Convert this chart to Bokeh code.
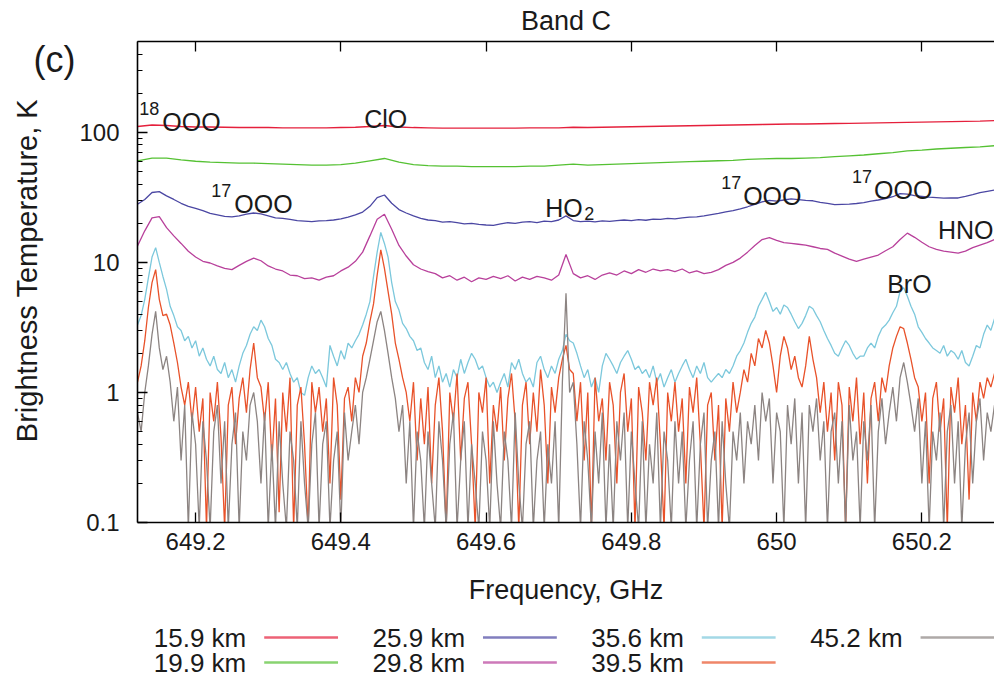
import numpy as np
from bokeh.plotting import figure
from bokeh.models import Range1d, FixedTicker, LinearAxis, Label
from bokeh.layouts import column, row
from bokeh.core.properties import value
from bokeh.embed import file_html
from bokeh.resources import INLINE

FONT = "Liberation Sans"

# ---------------- data ----------------
FREQ_START, FREQ_STOP = 649.12, 650.30   # GHz, spectra sampled uniformly over this span

series_names = ["15.9 km", "19.9 km", "25.9 km", "29.8 km", "35.6 km", "39.5 km", "45.2 km"]
series_colors = ["#e5203c", "#55c133", "#4b47a3", "#b8409b", "#7cc8dc", "#e8522a", "#8c8482"]

# 15.9 km (step 0.02 GHz)
t_15_9 = [111, 114, 113, 111, 110, 110, 109.5, 109, 109, 109,
          108.5, 108.5, 108.5, 108.5, 109, 109.5, 111, 113, 110, 109,
          108.5, 108, 108, 108, 108, 108, 108, 108.5, 108.5, 108.5,
          109.5, 109, 109.5, 110, 110.5, 111, 111.5, 112, 112.5, 113,
          113.5, 114, 114.5, 115, 115.5, 116, 116, 116.5, 117, 117.5,
          118, 118.5, 119, 119.5, 120, 120.5, 121, 121.5, 122, 123]

# 19.9 km (step 0.02 GHz)
t_19_9 = [60.5, 63.5, 63.5, 61.5, 60, 59, 58.5, 58, 58, 57.5,
          57, 56.5, 56, 56, 56.5, 58, 60.5, 63, 59, 56.5,
          55.5, 55, 55, 54.5, 54.5, 54.5, 54.5, 55, 55, 56,
          57, 56, 56.5, 57, 57.5, 58, 58.5, 59, 59.5, 60,
          60.5, 61, 62, 62.5, 63, 63, 63.5, 64, 65, 66,
          67, 68.5, 70, 72, 73, 74.5, 75.5, 76.5, 77.5, 79]

# 25.9 km (step 0.01 GHz)
t_25_9 = [28.0, 30.5, 34.5, 35.0, 32.5, 30.5, 28.5, 27.0, 26.0, 25.0,
          23.8, 23.2, 22.6, 22.4, 22.8, 23.5, 24.0, 23.6, 22.8, 22.0,
          21.8, 21.4, 21.0, 20.8, 20.6, 20.9, 21.0, 21.2, 21.6, 22.3,
          23.2, 24.4, 27.0, 31.5, 33.0, 28.5, 25.5, 24.0, 22.8, 21.8,
          21.2, 21.0, 20.4, 20.6, 20.2, 19.8, 20.0, 19.6, 19.4, 19.3,
          19.8, 20.2, 20.0, 20.4, 20.6, 20.2, 20.8, 20.6, 21.2, 22.8,
          21.0, 20.6, 20.8, 20.5, 20.9, 20.7, 21.0, 21.2, 21.0, 21.3,
          21.1, 21.5, 21.4, 21.8, 21.6, 22.0, 22.3, 22.4, 22.8, 23.3,
          23.8, 24.5, 25.0, 25.8, 26.8, 28.0, 29.2, 30.0, 29.6, 30.2,
          30.8, 30.4, 30.0, 29.8, 29.0, 28.4, 27.8, 28.0, 28.1, 28.4,
          28.8, 29.6, 30.2, 31.0, 32.0, 33.8, 33.5, 32.6, 32.2, 31.8,
          31.5, 31.2, 31.4, 31.3, 32.2, 33.2, 34.4, 35.2, 36.0]

# 29.8 km (step 0.01 GHz)
t_29_8 = [13.4, 17.5, 22.0, 22.5, 18.5, 16.0, 14.0, 12.2, 11.0, 10.2,
          9.9, 9.4, 9.0, 8.8, 9.5, 10.2, 10.8, 10.3, 9.4, 8.9,
          8.6, 8.0, 7.9, 7.5, 7.6, 7.3, 7.7, 7.9, 8.6, 9.2,
          10.2, 12.0, 16.0, 21.5, 23.5, 18.0, 13.5, 11.2, 9.6, 8.9,
          8.5, 8.2, 7.6, 7.9, 7.3, 7.7, 7.1, 7.6, 7.4, 7.8,
          7.5, 7.9, 7.2, 7.7, 7.4, 7.8, 7.6, 7.3, 8.0, 11.5,
          8.2, 7.6, 7.9, 7.4, 8.0, 8.3, 8.0, 8.6, 8.2, 8.8,
          8.4, 8.9, 8.6, 8.8, 8.5, 8.9, 8.3, 8.6, 8.2, 8.4,
          8.8, 9.5, 10.0, 10.8, 12.0, 13.5, 15.0, 15.5, 14.8, 14.2,
          14.0, 13.8, 13.6, 13.2, 12.8, 12.6, 11.8, 11.2, 10.6, 10.2,
          10.6, 11.0, 11.4, 12.3, 13.2, 15.0, 16.8, 15.6, 14.3, 13.2,
          12.6, 12.2, 12.0, 11.8, 12.2, 13.0, 13.6, 14.2, 15.0]

# 35.6 km (step 0.005 GHz)
t_35_6 = [3.3, 3.9, 5.2, 7.6, 11.0, 13.0, 10.0, 7.8, 6.2, 4.6,
          3.9, 3.2, 3.0, 2.5, 2.7, 2.2, 2.5, 1.9, 2.2, 1.8,
          1.6, 1.9, 1.5, 1.4, 1.7, 1.3, 1.5, 1.2, 1.6, 2.0,
          2.3, 2.8, 3.2, 3.0, 3.6, 3.2, 2.6, 2.3, 1.8, 1.7,
          1.5, 1.7, 1.4, 1.2, 1.3, 1.0, 0.95, 1.3, 1.6, 1.4,
          1.5, 1.3, 1.1, 2.3, 1.9, 1.6, 2.1, 1.8, 2.4, 2.2,
          2.5, 2.8, 3.3, 4.0, 5.0, 7.8, 12.0, 17.0, 14.0, 11.0,
          7.0, 5.0, 4.3, 3.4, 3.1, 2.7, 2.5, 2.1, 2.2, 1.7,
          1.5, 1.9, 1.3, 1.6, 1.2, 1.4, 1.1, 1.5, 1.3, 1.8,
          1.4, 1.7, 2.0, 1.8, 1.5, 1.6, 1.3, 1.1, 1.2, 1.0,
          1.2, 1.4, 1.1, 1.7, 1.5, 1.8, 1.4, 1.2, 1.3, 1.1,
          1.7, 1.9, 1.5, 1.3, 1.6, 1.4, 1.8, 2.1, 2.8, 2.5,
          2.4, 2.0, 1.6, 1.3, 1.5, 1.1, 1.3, 1.0, 1.6, 2.0,
          1.8, 1.6, 1.4, 1.7, 1.9, 2.1, 1.8, 1.5, 1.6, 1.4,
          1.5, 1.3, 1.6, 1.2, 1.4, 1.1, 1.3, 1.5, 1.2, 1.4,
          1.6, 1.8, 1.5, 1.3, 1.6, 1.4, 1.7, 1.3, 1.2, 1.3,
          1.4, 1.3, 1.5, 1.4, 1.6, 1.9, 2.1, 2.4, 2.9, 3.4,
          3.8, 4.6, 5.2, 5.9, 5.0, 4.2, 4.5, 4.0, 4.7, 4.5,
          4.0, 3.5, 3.1, 3.4, 3.9, 4.6, 4.4, 3.9, 3.5, 3.0,
          2.6, 2.3, 2.0, 1.9, 2.2, 2.5, 2.3, 2.0, 1.8, 1.9,
          1.9, 2.2, 2.4, 2.2, 2.7, 3.1, 3.3, 3.6, 4.1, 4.6,
          6.0, 6.4, 5.5, 4.6, 4.0, 3.2, 2.9, 2.6, 2.4, 2.2,
          2.1, 2.0, 2.3, 1.9, 2.1, 2.0, 1.8, 2.1, 1.7, 1.6,
          1.9, 2.3, 2.2, 2.8, 3.3, 3.0, 3.7]

# 39.5 km (step 0.005 GHz)
t_39_5 = [1.2, 1.6, 2.5, 4.5, 7.0, 8.8, 5.2, 3.9, 4.0, 3.3,
          2.4, 1.7, 1.1, 0.8, 1.2, 0.6, 1.1, 0.5, 0.9, 0.09,
          1.0, 0.6, 1.2, 0.45, 0.09, 0.8, 1.1, 0.4, 0.9, 1.3,
          0.7, 1.5, 2.4, 1.3, 1.1, 0.6, 1.2, 0.3, 0.9, 0.12,
          1.0, 0.5, 1.3, 0.09, 0.8, 1.1, 0.4, 0.09, 1.2, 0.7,
          1.1, 0.5, 0.9, 0.2, 1.3, 0.8, 0.15, 0.9, 1.1, 0.6,
          1.3, 1.0, 1.9, 2.4, 3.5, 4.8, 8.0, 12.5, 9.0, 6.0,
          4.0, 2.4, 1.8, 1.3, 1.0, 0.6, 1.2, 0.3, 0.9, 0.4,
          1.1, 0.2, 0.8, 1.3, 0.5, 0.09, 1.0, 0.6, 1.4, 0.3,
          0.9, 1.2, 0.4, 0.09, 1.0, 0.7, 1.3, 0.2, 0.8, 0.5,
          1.1, 0.3, 0.9, 1.4, 0.6, 0.09, 0.8, 1.2, 0.4, 1.0,
          0.5, 1.5, 0.8, 0.2, 1.1, 0.7, 1.3, 1.8, 2.3, 1.5,
          1.4, 0.6, 1.2, 0.3, 1.0, 0.09, 1.3, 0.6, 0.9, 0.3,
          1.2, 0.8, 0.2, 1.0, 1.4, 0.5, 0.9, 0.09, 1.1, 0.7,
          0.3, 1.2, 0.8, 1.3, 0.4, 0.09, 1.0, 0.6, 1.2, 0.5,
          0.9, 0.2, 1.1, 0.7, 1.3, 0.4, 0.09, 0.8, 1.0, 0.3,
          0.8, 0.09, 0.9, 0.5, 1.2, 0.7, 1.0, 1.5, 1.2, 2.0,
          1.6, 2.6, 2.2, 3.0, 2.4, 1.6, 1.0, 1.9, 2.7, 2.2,
          1.5, 1.9, 1.3, 1.1, 1.6, 2.7, 1.8, 1.3, 0.7, 1.2,
          0.5, 1.0, 0.3, 1.2, 0.8, 0.09, 1.1, 0.6, 1.3, 0.4,
          1.0, 0.2, 0.9, 1.2, 0.6, 1.3, 1.0, 1.6, 2.2, 2.7,
          3.2, 3.1, 2.4, 1.8, 1.3, 1.1, 0.6, 1.0, 0.2, 0.9,
          1.2, 0.5, 0.9, 0.09, 1.1, 0.7, 1.3, 0.4, 0.8, 0.15,
          1.0, 0.6, 1.2, 0.9, 1.3, 1.1, 1.4]

# 45.2 km (step 0.005 GHz)
t_45_2 = [0.7, 0.5, 1.0, 1.6, 2.8, 4.2, 2.2, 1.5, 1.9, 1.2,
          0.6, 1.1, 0.3, 0.8, 0.09, 0.7, 0.4, 0.09, 0.6, 0.3,
          0.09, 0.5, 0.8, 0.2, 0.6, 0.09, 0.4, 0.7, 0.09, 0.5,
          0.3, 0.8, 1.0, 0.6, 0.2, 0.7, 0.09, 0.4, 0.09, 0.6,
          0.2, 0.09, 0.5, 0.3, 0.09, 0.6, 0.2, 0.09, 0.4, 0.7,
          0.09, 0.4, 0.6, 0.09, 0.3, 0.5, 0.09, 0.7, 0.3, 0.5,
          0.8, 0.4, 1.0, 1.3, 1.8, 2.5, 3.5, 4.2, 3.0, 2.0,
          1.3, 0.9, 0.5, 0.8, 0.2, 0.6, 0.09, 0.5, 0.3, 0.09,
          0.5, 0.2, 0.09, 0.6, 0.3, 0.09, 0.4, 0.7, 0.09, 0.3,
          0.6, 0.09, 0.4, 0.2, 0.09, 0.5, 0.3, 0.09, 0.6, 0.2,
          0.09, 0.5, 0.3, 0.09, 0.7, 0.2, 0.09, 0.4, 0.6, 0.09,
          0.3, 0.5, 0.09, 0.4, 0.2, 0.6, 0.09, 1.2, 5.8, 1.0,
          1.2, 0.4, 0.09, 0.6, 0.3, 0.09, 0.5, 0.2, 0.7, 0.09,
          0.4, 0.09, 0.6, 0.3, 0.7, 0.09, 0.5, 0.2, 0.09, 0.6,
          0.09, 0.4, 0.2, 0.7, 0.09, 0.5, 0.3, 0.09, 0.6, 0.2,
          0.5, 0.09, 0.3, 0.6, 0.09, 0.4, 0.7, 0.09, 0.3, 0.5,
          0.09, 0.6, 0.2, 0.09, 0.5, 0.3, 0.7, 0.2, 0.6, 0.4,
          0.8, 0.3, 1.0, 0.6, 0.9, 0.2, 0.7, 0.5, 0.09, 0.8,
          0.4, 0.9, 0.2, 0.7, 0.09, 0.8, 0.5, 0.9, 0.3, 0.6,
          0.09, 0.5, 0.7, 0.2, 0.6, 0.09, 0.8, 0.3, 0.5, 0.09,
          0.6, 0.3, 0.8, 0.09, 0.5, 0.9, 0.4, 0.7, 1.1, 0.6,
          1.3, 1.7, 1.2, 0.8, 0.5, 0.9, 0.2, 0.6, 0.09, 0.5,
          0.3, 0.7, 0.09, 0.5, 0.8, 0.2, 0.6, 0.09, 0.4, 0.7,
          0.2, 0.6, 0.9, 0.3, 0.7, 0.5, 0.8]

series_values = [t_15_9, t_19_9, t_25_9, t_29_8, t_35_6, t_39_5, t_45_2]

x_ticks = [649.2, 649.4, 649.6, 649.8, 650.0, 650.2]
x_tick_labels = ["649.2", "649.4", "649.6", "649.8", "650", "650.2"]
y_ticks = [0.1, 1, 10, 100]
y_tick_labels = ["0.1", "1", "10", "100"]

# line annotations: (text, freq GHz, brightness K, font size)
annotations = [
    ("18", 649.1225, 152, "18px"), ("OOO", 649.1542, 120.8, "25px"),
    ("ClO", 649.4322, 127.4, "25px"),
    ("17", 649.2216, 35.6, "18px"), ("OOO", 649.2533, 28.3, "25px"),
    ("HO", 649.6814, 26.3, "25px"), ("2", 649.7350, 23.7, "18px"),
    ("17", 649.9236, 41.0, "18px"), ("OOO", 649.9539, 32.6, "25px"),
    ("17", 650.1038, 45.6, "18px"), ("OOO", 650.1341, 36.2, "25px"),
    ("HNO", 650.2222, 17.8, "25px"),
    ("BrO", 650.1522, 6.86, "25px"),
]

LEFT_W = 76          # width of the left strip holding "(c)" and the y-axis title
PAGE_W, MAIN_H, LEG_H = 994, 610, 66
FRAME_LEFT = 135

# ---------------- left strip: panel letter + y title ----------------
lf = figure(width=LEFT_W, height=MAIN_H + LEG_H, x_range=Range1d(0, LEFT_W),
            y_range=Range1d(MAIN_H + LEG_H, 0), output_backend="svg", toolbar_location=None,
            min_border=0)
lf.axis.visible = False
lf.grid.visible = False
lf.outline_line_color = None
lf.text(x=[33], y=[59], text=["(c)"], text_align="left", text_baseline="middle",
        text_font=value(FONT), text_font_size="36px", text_color="#1a1a1a")
lf.text(x=[26], y=[270], text=["Brightness Temperature, K"], angle=np.pi / 2,
        text_align="center", text_baseline="middle",
        text_font=value(FONT), text_font_size="29px", text_color="#1a1a1a")

# ---------------- main plot ----------------
p = figure(width=PAGE_W - LEFT_W, height=MAIN_H, x_range=Range1d(FREQ_START, FREQ_STOP),
           y_range=Range1d(0.1, 500), y_axis_type="log",
           output_backend="svg", toolbar_location=None,
           min_border_left=FRAME_LEFT - LEFT_W, min_border_right=0,
           min_border_top=41, min_border_bottom=88)
p.outline_line_color = None
p.xgrid.visible = False
p.ygrid.visible = False

for name, vals, col in zip(series_names, series_values, series_colors):
    freq = np.linspace(FREQ_START, FREQ_STOP, len(vals))
    p.line(freq, vals, line_color=col, line_width=1.3)

xa = p.xaxis[0]
xa.ticker = FixedTicker(ticks=x_ticks, minor_ticks=[])
xa.major_label_overrides = dict(zip(x_ticks, x_tick_labels))
xa.axis_label = "Frequency, GHz"

ya = p.yaxis[0]
minor = [m * d for d in (0.1, 1, 10, 100) for m in range(2, 10) if m * d <= 500]
ya.ticker = FixedTicker(ticks=y_ticks, minor_ticks=minor)
ya.major_label_overrides = dict(zip(y_ticks, y_tick_labels))

top = LinearAxis(ticker=FixedTicker(ticks=x_ticks, minor_ticks=[]),
                 major_label_overrides={t: "" for t in x_ticks})
top.axis_label = "Band C"
p.add_layout(top, "above")

for ax in (xa, ya, top):
    ax.axis_line_color = "black"
    ax.axis_line_width = 1.6
    ax.major_tick_line_color = "black"
    ax.major_tick_line_width = 1.3
    ax.minor_tick_line_color = "black"
    ax.major_tick_in = 10
    ax.major_tick_out = 0
    ax.minor_tick_in = 5
    ax.minor_tick_out = 0
    ax.major_label_text_font = FONT
    ax.major_label_text_font_size = "24px"
    ax.major_label_text_color = "#1a1a1a"
    ax.axis_label_text_font = FONT
    ax.axis_label_text_font_style = "normal"
    ax.axis_label_text_font_size = "27px"
    ax.axis_label_text_color = "#1a1a1a"

xa.major_label_standoff = 10
xa.axis_label_standoff = 22
ya.major_label_standoff = 18
top.major_label_standoff = 0
top.major_label_text_font_size = "0px"
top.axis_label_standoff = 6

for txt, fx, fy, fs in annotations:
    p.add_layout(Label(x=fx, y=fy, text=txt, text_font=FONT, text_font_size=fs,
                       text_color="#1a1a1a", text_baseline="alphabetic", text_align="left"))

# ---------------- legend (label then line sample) ----------------
leg = figure(width=PAGE_W - LEFT_W, height=LEG_H, x_range=Range1d(FRAME_LEFT, PAGE_W),
             y_range=Range1d(0, LEG_H), output_backend="svg", toolbar_location=None,
             min_border_left=FRAME_LEFT - LEFT_W, min_border_right=0,
             min_border_top=0, min_border_bottom=0)
leg.axis.visible = False
leg.grid.visible = False
leg.outline_line_color = None

col_of = [0, 0, 1, 1, 2, 2, 3]
row_of = [0, 1, 0, 1, 0, 1, 0]
text_right = [244 + 219.3 * c for c in col_of]
row_y = [39 if r == 0 else 14 for r in row_of]
leg.text(x=text_right, y=row_y, text=series_names, text_align="right", text_baseline="middle",
         text_font=value(FONT), text_font_size="26px", text_color="#1a1a1a")
leg.segment(x0=[x + 18 for x in text_right], y0=row_y,
            x1=[x + 92 for x in text_right], y1=row_y,
            line_color=series_colors, line_width=2.6, line_alpha=0.7)

layout = row(lf, column(p, leg, spacing=0), spacing=0)
open("out.html", "w").write(file_html(layout, INLINE))
